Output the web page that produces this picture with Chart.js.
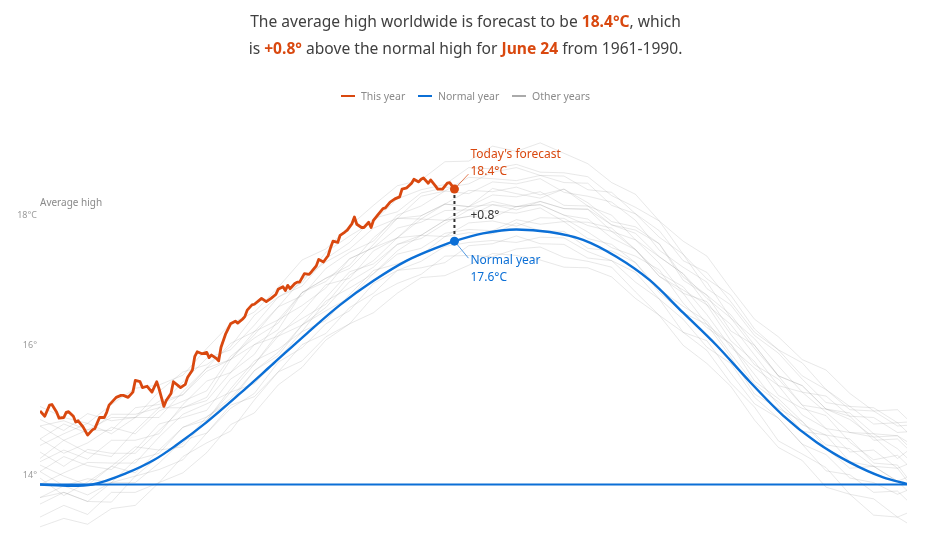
<!DOCTYPE html>
<html>
<head>
<meta charset="utf-8">
<script src="https://cdn.jsdelivr.net/npm/chart.js@4.4.1/dist/chart.umd.min.js"></script>
<style>
  html, body { margin:0; padding:0; background:#fff; }
  #wrap { position:relative; width:931px; height:537px; overflow:hidden; }
  #c { position:absolute; left:0; top:0; }
  #title { position:absolute; left:0; top:8px; width:931px; text-align:center;
           font-family:"Noto Sans", sans-serif; font-size:15.6px; line-height:27px; color:#404040; }
  #title b { color:#d9480f; font-weight:700; }
  #legend { position:absolute; left:0; top:89px; width:931px; text-align:center;
            font-family:"Noto Sans", sans-serif; font-size:10.5px; color:#8a8a8a; }
  #legend span.item { display:inline-block; margin:0 5px; }
  #legend i { display:inline-block; width:14px; height:2px; vertical-align:middle; margin-right:6px; position:relative; top:-1px; }
</style>
</head>
<body>
<div id="wrap">
  <canvas id="c" width="931" height="537"></canvas>
  <div id="title">The average high worldwide is forecast to be <b>18.4°C</b>, which<br>is <b>+0.8°</b> above the normal high for <b>June 24</b> from 1961-1990.</div>
  <div id="legend">
    <span class="item"><i style="background:#d9480f"></i>This year</span>
    <span class="item"><i style="background:#0b6fd6"></i>Normal year</span>
    <span class="item"><i style="background:#aaaaaa"></i>Other years</span>
  </div>
</div>
<script>
// ---- data ----
const yTicks = [14, 16, 18];
const yTickLabels = ["14°", "16°", "18°C"];

const thisYearDays = [1,3,5,6,8,9,11,12,13,15,16,17,19,21,23,24,26,28,29,30,33,35,36,38,40,41,43,44,46,48,50,51,53,54,56,57,59,60,62,63,65,66,67,69,71,72,73,75,76,77,79,81,83,84,86,87,88,90,91,93,94,96,98,100,101,103,104,105,106,108,109,110,112,114,115,117,118,120,122,123,124,126,127,129,130,132,133,134,136,137,139,140,141,143,145,146,148,150,152,153,155,157,158,160,161,162,164,165,167,168,170,172,173,175];
const thisYearValues = [14.99,14.91,15.08,15.09,14.97,14.88,14.89,14.97,14.98,14.91,14.82,14.84,14.75,14.62,14.70,14.72,14.89,14.89,14.97,15.08,15.20,15.23,15.23,15.20,15.28,15.46,15.44,15.35,15.37,15.28,15.44,15.33,15.06,15.15,15.26,15.44,15.38,15.35,15.40,15.51,15.62,15.83,15.90,15.87,15.89,15.81,15.85,15.80,15.76,15.97,16.18,16.33,16.37,16.34,16.40,16.44,16.54,16.62,16.63,16.69,16.72,16.67,16.72,16.78,16.86,16.90,16.84,16.92,16.87,16.95,16.97,16.97,17.10,17.09,17.13,17.22,17.32,17.28,17.38,17.50,17.60,17.58,17.69,17.74,17.77,17.87,17.97,17.86,17.81,17.81,17.89,17.81,17.92,18.01,18.10,18.11,18.20,18.25,18.28,18.40,18.42,18.49,18.55,18.51,18.55,18.57,18.49,18.54,18.45,18.40,18.40,18.49,18.50,18.40];

const normalDays = [1,14,23,37,49,58,71,85,99,113,127,141,155,169,175,187,201,215,229,243,257,271,285,299,313,327,341,355,365];
const normalValues = [13.86,13.84,13.86,14.03,14.24,14.46,14.82,15.26,15.72,16.18,16.62,16.99,17.30,17.52,17.60,17.72,17.78,17.74,17.62,17.36,17.00,16.50,16.00,15.44,14.92,14.51,14.20,13.97,13.87];

const baselineDays = [1, 365];
const baselineValues = [13.86, 13.86];

const todayDay = 175;
const todayForecast = 18.4;
const todayNormal = 17.6;

const otherDays = [1,11,21,31,41,51,61,71,81,91,101,111,121,131,141,151,161,171,181,191,201,211,221,231,241,251,261,271,281,291,301,311,321,331,341,351,361,365];
const otherYear01 = [13.36,13.54,13.40,13.74,13.74,13.89,14.29,14.50,14.68,15.16,15.59,15.76,16.13,16.33,16.75,16.95,17.09,17.37,17.38,17.36,17.48,17.51,17.35,17.29,17.20,16.82,16.46,16.20,15.92,15.42,15.05,14.53,14.33,14.12,13.71,13.64,13.36,13.42];
const otherYear02 = [13.56,13.74,13.60,13.59,13.99,14.09,14.24,14.65,15.08,15.21,15.59,16.01,16.18,16.58,16.80,17.15,17.19,17.27,17.53,17.56,17.68,17.56,17.55,17.34,17.30,16.97,16.71,16.20,16.07,15.57,15.10,14.88,14.48,14.07,14.01,13.74,13.76,13.62];
const otherYear03 = [13.96,13.69,13.90,14.14,14.04,14.39,14.44,14.85,15.28,15.41,15.79,16.21,16.38,16.78,17.15,17.25,17.39,17.67,17.73,17.71,17.88,17.76,17.75,17.49,17.45,17.27,16.81,16.50,16.32,15.82,15.25,15.03,14.83,14.42,14.11,14.14,13.91,13.77];
const otherYear04 = [14.16,13.99,13.85,14.14,14.44,14.39,14.74,14.85,15.33,15.76,15.94,16.21,16.68,16.88,17.10,17.45,17.69,17.67,17.88,17.91,17.83,17.96,17.95,17.74,17.50,17.37,17.16,16.65,16.27,16.02,15.55,15.08,14.68,14.62,14.56,14.19,14.16,13.97];
const otherYear05 = [14.06,14.29,14.15,14.09,14.39,14.79,14.89,15.00,15.48,15.71,16.19,16.41,16.63,17.08,17.30,17.65,17.69,17.92,17.98,17.96,18.13,18.16,18.00,17.84,17.75,17.47,17.06,16.85,16.62,16.07,15.75,15.23,15.03,14.92,14.51,14.24,14.31,14.17];
const otherYear06 = [14.36,14.14,14.40,14.34,14.34,14.69,15.04,15.15,15.58,16.01,16.14,16.51,16.93,17.03,17.45,17.65,17.94,17.92,18.13,18.16,18.08,18.21,18.10,18.09,17.75,17.62,17.26,16.80,16.67,16.17,15.70,15.48,15.08,14.72,14.66,14.59,14.26,14.37];
const otherYear07 = [14.21,14.39,14.25,14.54,14.54,14.64,15.09,15.45,15.58,15.86,16.39,16.61,16.88,17.33,17.50,17.65,17.99,18.17,18.13,18.31,18.28,18.36,18.15,18.14,18.00,17.62,17.36,17.10,16.62,16.32,15.85,15.38,15.28,14.97,14.66,14.64,14.41,14.27];
const otherYear08 = [14.56,14.34,14.50,14.74,14.64,14.99,15.14,15.30,15.83,16.11,16.34,16.81,17.03,17.23,17.65,17.95,17.99,18.17,18.38,18.36,18.43,18.31,18.40,18.19,17.90,17.82,17.56,17.05,16.77,16.47,16.00,15.53,15.38,15.02,14.96,14.64,14.61,14.52];
const otherYear09 = [14.46,14.64,14.80,14.64,14.89,14.89,15.29,15.65,15.78,16.16,16.59,16.76,17.18,17.43,17.60,18.00,18.14,18.37,18.33,18.51,18.48,18.56,18.35,18.29,18.20,17.92,17.46,17.20,16.97,16.42,16.10,15.68,15.28,15.22,14.91,14.89,14.66,14.67];
const otherYear10 = [14.76,14.54,14.70,14.69,15.04,15.09,15.24,15.65,16.03,16.21,16.59,17.01,17.28,17.48,17.80,17.95,18.29,18.37,18.58,18.56,18.53,18.61,18.50,18.49,18.15,18.02,17.66,17.40,16.87,16.62,16.15,15.88,15.48,15.12,15.06,14.79,14.81,14.67];
const otherYear11 = [14.86,14.69,14.95,14.84,14.89,15.29,15.59,15.70,15.98,16.46,16.74,16.96,17.43,17.68,17.90,18.25,18.39,18.47,18.73,18.71,18.78,18.66,18.65,18.59,18.30,18.12,17.91,17.40,17.02,16.77,16.25,15.93,15.73,15.32,15.06,15.04,14.81,14.82];
const otherYear12 = [15.06,14.89,14.80,15.09,15.34,15.39,15.54,15.95,16.33,16.51,16.89,17.31,17.48,17.83,18.15,18.45,18.54,18.82,18.83,19.06,18.98,19.11,18.95,18.79,18.50,18.32,17.91,17.60,17.37,16.87,16.40,16.13,15.78,15.62,15.26,14.99,15.01,14.87];
const otherYear13 = [13.21,13.34,13.25,13.49,13.54,13.89,14.04,14.35,14.78,14.96,15.39,15.66,16.08,16.33,16.50,16.80,17.04,17.07,17.23,17.41,17.38,17.31,17.20,17.19,17.05,16.72,16.46,16.00,15.72,15.37,14.85,14.43,14.23,13.82,13.71,13.39,13.36,13.27];
const otherYear14 = [13.86,14.04,14.20,14.19,14.19,14.59,14.94,15.10,15.28,15.71,16.14,16.31,16.73,17.13,17.25,17.55,17.64,17.87,18.08,18.06,18.03,18.11,17.90,17.89,17.80,17.47,17.11,16.90,16.47,15.97,15.65,15.38,14.93,14.72,14.36,14.39,14.11,14.17];
const otherYear15 = [13.66,13.74,13.60,13.89,13.99,14.29,14.49,14.90,15.18,15.61,15.89,16.31,16.58,16.98,17.20,17.55,17.69,17.92,17.98,18.16,18.13,18.21,18.10,18.09,17.85,17.72,17.36,17.10,16.72,16.42,15.95,15.53,15.38,15.02,14.86,14.59,14.61,14.47];
const otherYear16 = [14.76,14.84,14.70,14.89,14.89,15.14,15.24,15.60,15.78,16.21,16.39,16.81,16.98,17.33,17.50,17.80,17.89,18.07,18.08,18.21,18.13,18.16,18.00,17.94,17.65,17.47,17.06,16.80,16.32,16.02,15.45,15.18,14.83,14.47,14.41,14.14,13.91,13.97];
const otherYear17 = [14.26,14.54,14.35,14.29,14.69,15.04,15.04,15.20,15.78,16.01,16.24,16.81,17.03,17.18,17.55,17.95,17.94,18.17,18.13,18.41,18.33,18.26,18.40,18.14,17.85,17.77,17.56,17.00,16.77,16.22,16.00,15.53,15.08,15.02,14.91,14.54,14.56,14.42];
const otherYear18 = [14.06,13.84,13.95,13.89,14.24,14.34,14.74,14.90,15.13,15.61,15.84,16.31,16.53,16.73,17.10,17.40,17.49,17.72,17.78,17.76,17.93,17.86,17.90,17.64,17.55,17.27,16.86,16.60,16.37,15.87,15.40,15.13,14.78,14.62,14.21,14.14,14.11,13.92];
const otherYear19 = [14.56,14.79,14.65,14.94,14.94,15.04,15.44,15.80,15.93,16.31,16.74,16.91,17.33,17.58,17.95,18.05,18.34,18.42,18.48,18.66,18.73,18.61,18.60,18.39,18.35,18.02,17.76,17.30,17.12,16.67,16.20,15.93,15.53,15.32,15.01,14.99,14.76,14.77];
const otherYear20 = [13.66,13.84,13.70,13.89,13.89,14.19,14.54,14.65,15.03,15.26,15.74,15.96,16.33,16.53,16.95,17.15,17.29,17.52,17.58,17.61,17.58,17.66,17.65,17.44,17.30,17.12,16.71,16.40,15.97,15.72,15.20,14.88,14.48,14.32,13.96,13.89,13.71,13.77];
const otherYears = [otherYear01,otherYear02,otherYear03,otherYear04,otherYear05,otherYear06,otherYear07,otherYear08,otherYear09,otherYear10,otherYear11,otherYear12,otherYear13,otherYear14,otherYear15,otherYear16,otherYear17,otherYear18,otherYear19,otherYear20];

// ---- styles ----
const ORANGE = '#d9480f';
const BLUE = '#0b6fd6';
const FONT = '"Noto Sans", sans-serif';

function pts(xs, ys) { return xs.map((x, i) => ({ x: x, y: ys[i] })); }

const datasets = [];
datasets.push({ label: 'This year', data: pts(thisYearDays, thisYearValues), borderColor: ORANGE, borderWidth: 2.8, tension: 0, pointRadius: 0, order: 0, borderJoinStyle: 'round' });
datasets.push({ label: 'Normal year', data: pts(normalDays, normalValues), borderColor: BLUE, borderWidth: 2.4, cubicInterpolationMode: 'monotone', pointRadius: 0, order: 1 });
datasets.push({ label: 'Normal baseline', data: pts(baselineDays, baselineValues), borderColor: BLUE, borderWidth: 2, tension: 0, pointRadius: 0, order: 2 });
otherYears.forEach((ys, k) => {
  datasets.push({ label: 'Other year ' + (k + 1), data: pts(otherDays, ys), borderColor: 'rgba(150,150,150,0.22)', borderWidth: 1, tension: 0, pointRadius: 0, order: 10 });
});

const annot = {
  id: 'annot',
  afterDraw(chart) {
    const ctx = chart.ctx, xs = chart.scales.x, ys = chart.scales.y;
    const ca = chart.chartArea;
    ctx.save();
    // y tick labels
    ctx.font = '9px ' + FONT;
    ctx.fillStyle = '#9a9a9a';
    ctx.textAlign = 'right';
    ctx.textBaseline = 'middle';
    yTicks.forEach((v, i) => ctx.fillText(yTickLabels[i], ca.left - 3, ys.getPixelForValue(v)));
    ctx.font = '10px ' + FONT;
    ctx.fillStyle = '#8a8a8a';
    ctx.textAlign = 'left';
    ctx.fillText('Average high', ca.left, ys.getPixelForValue(18) - 12);

    const px = xs.getPixelForValue(todayDay);
    const pr = ys.getPixelForValue(todayForecast);
    const pn = ys.getPixelForValue(todayNormal);
    // dashed connector
    ctx.strokeStyle = '#333';
    ctx.lineWidth = 2;
    ctx.setLineDash([3, 3]);
    ctx.beginPath(); ctx.moveTo(px, pr); ctx.lineTo(px, pn); ctx.stroke();
    ctx.setLineDash([]);
    // leader lines
    ctx.lineWidth = 1;
    ctx.strokeStyle = 'rgba(217,72,15,0.7)';
    ctx.beginPath(); ctx.moveTo(px, pr); ctx.lineTo(px + 14, pr - 15); ctx.stroke();
    ctx.strokeStyle = 'rgba(11,111,214,0.7)';
    ctx.beginPath(); ctx.moveTo(px, pn); ctx.lineTo(px + 14, pn + 17); ctx.stroke();
    // points
    ctx.fillStyle = ORANGE;
    ctx.beginPath(); ctx.arc(px, pr, 4.5, 0, Math.PI * 2); ctx.fill();
    ctx.fillStyle = BLUE;
    ctx.beginPath(); ctx.arc(px, pn, 4.5, 0, Math.PI * 2); ctx.fill();
    // labels
    ctx.font = '12px ' + FONT;
    ctx.textAlign = 'left';
    ctx.textBaseline = 'middle';
    ctx.fillStyle = ORANGE;
    ctx.fillText("Today's forecast", px + 16, pr - 35);
    ctx.fillText(todayForecast.toFixed(1) + '°C', px + 16, pr - 18);
    ctx.fillStyle = '#333';
    ctx.fillText('+' + (todayForecast - todayNormal).toFixed(1) + '°', px + 16, (pr + pn) / 2);
    ctx.fillStyle = BLUE;
    ctx.fillText('Normal year', px + 16, pn + 19);
    ctx.fillText(todayNormal.toFixed(1) + '°C', px + 16, pn + 36);
    ctx.restore();
  }
};

new Chart(document.getElementById('c'), {
  type: 'line',
  data: { datasets: datasets },
  options: {
    responsive: false,
    animation: false,
    events: [],
    layout: { padding: { left: 40, right: 24, top: 124, bottom: 3 } },
    scales: {
      x: { type: 'linear', min: 1, max: 365, display: false },
      y: { type: 'linear', min: 13.1, max: 19.4, display: false }
    },
    plugins: { legend: { display: false }, tooltip: { enabled: false } },
    elements: { point: { radius: 0 } }
  },
  plugins: [annot]
});
</script>
</body>
</html>
